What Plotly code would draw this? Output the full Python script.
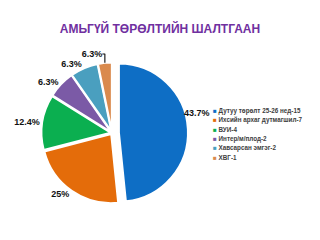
import plotly.graph_objects as go

labels = ["Дутуу төрөлт 25-26 нед-15", "Ихсийн архаг дутмагшил-7", "ВУИ-4",
          "Интер/м/плод-2", "Хавсарсан эмгэг-2", "ХВГ-1"]
values = [15, 7, 4, 2, 2, 1]
pct_text = ["43.7%", "25%", "12.4%", "6.3%", "6.3%", "6.3%"]
colors = ["#0E6EC5", "#E46C0A", "#0BAF50", "#7B5AA6", "#4A9FBF", "#DA8A4D"]

fig = go.Figure(go.Pie(
    labels=labels, values=values, text=pct_text,
    texttemplate="<b>%{text}</b>",
    textposition=["none"] + ["outside"] * (len(values) - 1),
    sort=False, direction="clockwise", rotation=0,
    marker=dict(colors=colors, line=dict(color="white", width=2)),
    pull=[0.1, 0.02, 0.02, 0.02, 0.02, 0.02],
    outsidetextfont=dict(family="Liberation Sans, Arial", size=9, color="#111111"),
    domain=dict(x=[0.1125, 0.5875], y=[0.129, 0.763]),
    automargin=False,
    hoverinfo="skip",
    showlegend=False,
))

fig.update_layout(
    width=320, height=240,
    margin=dict(l=0, r=0, t=0, b=0),
    paper_bgcolor="white", plot_bgcolor="white",
    title=dict(text="<b>АМЬГҮЙ ТӨРӨЛТИЙН ШАЛТГААН</b>", x=0.5, xanchor="center",
               y=1 - 29/240, yanchor="middle",
               font=dict(family="Liberation Sans, Arial", size=12, color="#7030A0")),
)

# label of the largest slice, placed beside it as in the reference
fig.add_annotation(x=197/320, y=1 - 113/240, xref="paper", yref="paper",
                   xanchor="center", yanchor="middle", showarrow=False,
                   text=f"<b>{pct_text[0]}</b>",
                   font=dict(family="Liberation Sans, Arial", size=9, color="#111111"))

# legend built from annotations
y0, dy = 111, 9.3
for i, (lab, col) in enumerate(zip(labels, colors)):
    yy = 1 - (y0 + i * dy) / 240
    fig.add_annotation(x=211/320, y=yy, xref="paper", yref="paper",
                       xanchor="left", yanchor="middle", showarrow=False,
                       text=f"<span style='color:{col}'>■</span> <b>{lab}</b>",
                       font=dict(family="Liberation Sans, Arial", size=6.3, color="#404040"))

fig.write_html("out.html")
